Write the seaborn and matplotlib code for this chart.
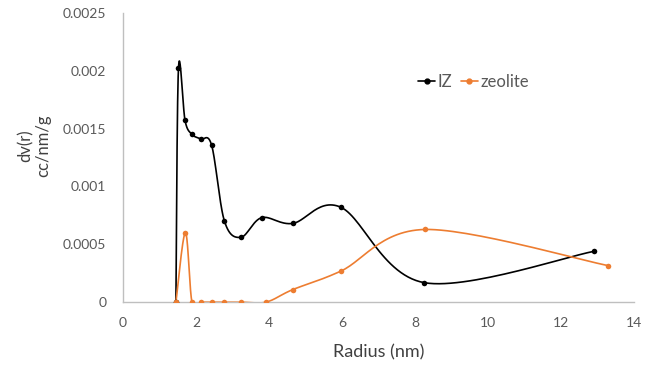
import numpy as np
import pandas as pd
import matplotlib
matplotlib.use("Agg")
import matplotlib.pyplot as plt
import seaborn as sns
from matplotlib.lines import Line2D

# Data
iz_radius = [1.45, 1.52, 1.70, 1.89, 2.13, 2.43, 2.78, 3.23, 3.80, 4.65, 5.97, 8.26, 12.92]
iz_dv = [0.0, 0.00202, 0.00157, 0.00145, 0.00141, 0.001355, 0.0007, 0.00056, 0.00073,
         0.00068, 0.00082, 0.000168, 0.00044]
zeo_radius = [1.45, 1.71, 1.89, 2.13, 2.43, 2.78, 3.23, 3.92, 4.65, 5.97, 8.28, 13.29]
zeo_dv = [0.0, 0.0006, 0.0, 0.0, 0.0, 0.0, 0.0, 0.0, 0.000108, 0.000268, 0.000628, 0.000316]

y_ticks = [0, 0.0005, 0.001, 0.0015, 0.002, 0.0025]
y_tick_labels = ["0", "0.0005", "0.001", "0.0015", "0.002", "0.0025"]
x_ticks = [0, 2, 4, 6, 8, 10, 12, 14]


# Excel-style smoothed line (Catmull-Rom bezier)
def smooth(x, y, n=30):
    p = np.column_stack([x, y])
    out = []
    for i in range(len(p) - 1):
        p0 = p[i - 1] if i > 0 else p[i]
        p1, p2 = p[i], p[i + 1]
        p3 = p[i + 2] if i + 2 < len(p) else p[i + 1]
        c1 = p1 + (p2 - p0) / 6
        c2 = p2 - (p3 - p1) / 6
        t = np.linspace(0, 1, n)[:, None]
        seg = ((1 - t) ** 3) * p1 + 3 * ((1 - t) ** 2) * t * c1 + 3 * (1 - t) * t ** 2 * c2 + t ** 3 * p2
        out.append(seg if i == 0 else seg[1:])
    s = np.vstack(out)
    return s[:, 0], s[:, 1]


sns.set_style("white")
plt.rcParams['font.family'] = ['Lato', 'DejaVu Sans']

fig = plt.figure(figsize=(6.45, 3.68), dpi=100)
ax = fig.add_axes([0.1907, 0.179, 0.792, 0.786])

black = "#000000"
orange = "#ED7D31"

for xs, ys, col in [(iz_radius, iz_dv, black), (zeo_radius, zeo_dv, orange)]:
    sx, sy = smooth(xs, ys)
    line_df = pd.DataFrame({"x": sx, "y": sy})
    sns.lineplot(data=line_df, x="x", y="y", sort=False, estimator=None,
                 color=col, linewidth=1.2, ax=ax)
    pts = pd.DataFrame({"x": xs, "y": ys})
    sns.scatterplot(data=pts, x="x", y="y", color=col, s=16, edgecolor=col,
                    linewidth=0, ax=ax, zorder=3)

ax.set_xlim(0, 14)
ax.set_ylim(0, 0.0025)
ax.set_xticks(x_ticks)
ax.set_yticks(y_ticks)
ax.set_yticklabels(y_tick_labels)
ax.tick_params(length=0, labelsize=10, colors="#595959")
ax.tick_params(axis="x", pad=11)
ax.tick_params(axis="y", pad=12)

for side in ["top", "right"]:
    ax.spines[side].set_visible(False)
for side in ["left", "bottom"]:
    ax.spines[side].set_color("#BFBFBF")
    ax.spines[side].set_linewidth(1.0)

ax.set_xlabel("Radius (nm)", fontsize=13, color="#404040")
ax.set_ylabel("dv(r)\ncc/nm/g", fontsize=12, color="#404040", linespacing=1.15)
ax.xaxis.set_label_coords(0.5, -0.145)
ax.yaxis.set_label_coords(-0.14, 0.54)

handles = [Line2D([], [], color=black, marker="o", markersize=3.5, linewidth=1.2),
           Line2D([], [], color=orange, marker="o", markersize=3.5, linewidth=1.2)]
ax.legend(handles, ["IZ", "zeolite"], ncol=2, frameon=False, loc="center left",
          bbox_to_anchor=(0.577, 0.761), fontsize=12, handlelength=1.05,
          handletextpad=0.15, columnspacing=0.5, labelcolor="#595959",
          borderpad=0, borderaxespad=0)

fig.savefig("out.png", dpi=100)
